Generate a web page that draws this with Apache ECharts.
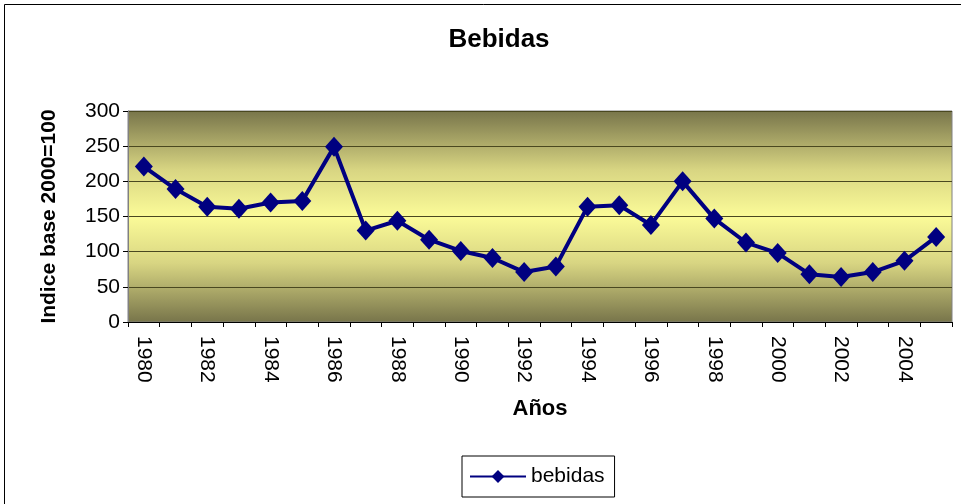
<!DOCTYPE html>
<html>
<head>
<meta charset="utf-8">
<script src="https://cdn.jsdelivr.net/npm/echarts@6/dist/echarts.min.js"></script>
<style>
  * { margin: 0; padding: 0; }
  html, body { width: 961px; height: 504px; background: #fff; overflow: hidden; }
  #renderDom { width: 961px; height: 504px; }
</style>
</head>
<body>
<div id="renderDom"></div>
<script>
// años y valores del índice (base 2000=100)
var years = ['1980','1981','1982','1983','1984','1985','1986','1987','1988','1989','1990','1991','1992',
             '1993','1994','1995','1996','1997','1998','1999','2000','2001','2002','2003','2004','2005'];
var bebidas = [221, 189, 164, 161, 170, 172, 249, 130, 144, 117, 101, 91, 71,
               79, 164, 166, 138, 200, 147, 113, 98, 68, 64, 71, 87, 121];
var yTicks = { min: 0, max: 300, step: 50 };

var font = 'Liberation Sans, Arial, sans-serif';
var myChart = echarts.init(document.getElementById('renderDom'), null, { renderer: 'canvas' });

var option = {
  backgroundColor: '#fff',
  animation: false,
  title: {
    text: 'Bebidas',
    left: 494, top: 22, textAlign: 'center',
    textStyle: { fontFamily: font, fontSize: 26, fontWeight: 'bold', color: '#000' }
  },
  graphic: [{
    type: 'rect', shape: { x: 4.5, y: 4.5, width: 990, height: 520 },
    style: { fill: 'none', stroke: '#000', lineWidth: 1 }, silent: true, z: -1
  }],
  legend: {
    data: ['bebidas'],
    left: 462, top: 456,
    padding: [10, 10, 10, 7],
    borderColor: '#000', borderWidth: 1,
    itemWidth: 56, itemHeight: 16, itemGap: 4,
    textStyle: { fontFamily: font, fontSize: 21, color: '#000' }
  },
  grid: {
    left: 128, right: 9, top: 111, bottom: 182,
    show: true,
    borderColor: '#808080', borderWidth: 1,
    backgroundColor: {
      type: 'linear', x: 0, y: 0, x2: 0, y2: 1,
      colorStops: [
        { offset: 0, color: '#77744a' },
        { offset: 0.28, color: '#d8d582' },
        { offset: 0.5, color: '#fbfb98' },
        { offset: 0.72, color: '#d8d582' },
        { offset: 1, color: '#77744a' }
      ]
    }
  },
  xAxis: {
    type: 'category',
    data: years,
    boundaryGap: true,
    name: 'Años',
    nameLocation: 'middle',
    nameGap: 76,
    nameTextStyle: { fontFamily: font, fontSize: 22, fontWeight: 'bold', color: '#000' },
    axisLine: { lineStyle: { color: '#000', width: 1 } },
    axisTick: { show: true, interval: 0, length: 5, lineStyle: { color: '#000' } },
    axisLabel: {
      interval: 1, rotate: -90, margin: 14,
      fontFamily: font, fontSize: 21, color: '#000'
    },
    splitLine: { show: false }
  },
  yAxis: {
    type: 'value',
    min: yTicks.min, max: yTicks.max, interval: yTicks.step,
    name: 'Indice base 2000=100',
    nameLocation: 'middle',
    nameGap: 68,
    nameRotate: 90,
    nameTextStyle: { fontFamily: font, fontSize: 21, fontWeight: 'bold', color: '#000' },
    axisLine: { show: true, lineStyle: { color: '#808080', width: 1 } },
    axisTick: { show: true, length: 5, lineStyle: { color: '#000' } },
    axisLabel: { margin: 8, fontFamily: font, fontSize: 21, color: '#000' },
    splitLine: { show: true, lineStyle: { color: '#4a4820', width: 1 } }
  },
  series: [{
    name: 'bebidas',
    type: 'line',
    data: bebidas,
    symbol: 'diamond',
    symbolSize: [18, 20],
    lineStyle: { color: '#000080', width: 4 },
    itemStyle: { color: '#000080' }
  }]
};
myChart.setOption(option);
</script>
</body>
</html>
